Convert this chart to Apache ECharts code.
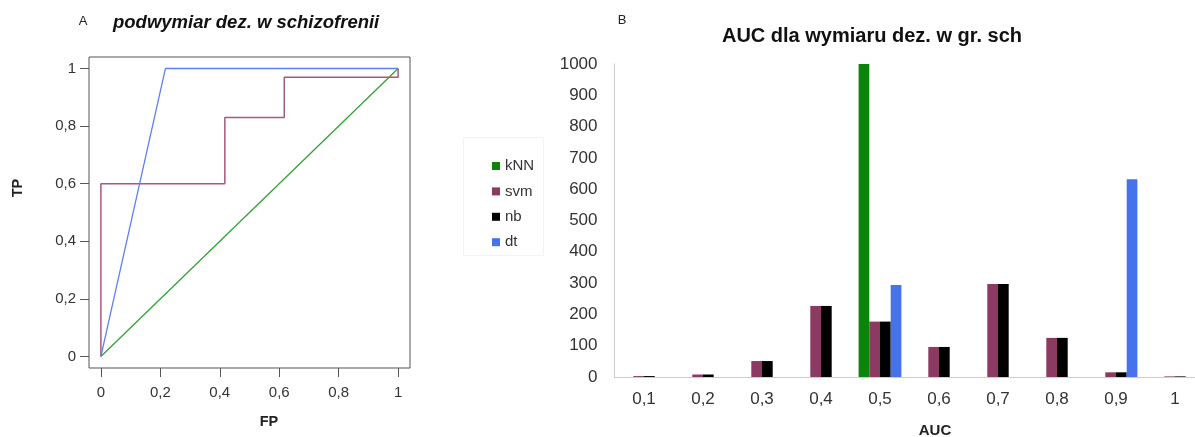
<!DOCTYPE html>
<html>
<head>
<meta charset="utf-8">
<script src="https://cdn.jsdelivr.net/npm/echarts@6/dist/echarts.min.js"></script>
<style>
  html, body { margin: 0; padding: 0; background: #ffffff; }
  #chart { width: 1195px; height: 437px; }
</style>
</head>
<body>
<div id="chart"></div>
<script>
// Panel A: ROC curves (FP, TP pairs)
const rocKnn = [[0, 0], [1, 1]];
const rocSvm = [[0, 0], [0, 0.6], [0.417, 0.6], [0.417, 0.83], [0.617, 0.83], [0.617, 0.97], [1, 0.97], [1, 1]];
const rocDt = [[0, 0], [0.217, 1], [1, 1]];
const rocTicks = [0, 0.2, 0.4, 0.6, 0.8, 1];

// Panel B: AUC histogram
const aucCategories = ['0,1', '0,2', '0,3', '0,4', '0,5', '0,6', '0,7', '0,8', '0,9', '1'];
const knnCounts = [0, 0, 0, 0, 1000, 0, 0, 0, 0, 0];
const svmCounts = [3, 8, 51, 227, 177, 96, 297, 125, 15, 2];
const nbCounts = [3, 8, 51, 227, 177, 96, 297, 125, 15, 2];
const dtCounts = [0, 0, 0, 0, 294, 0, 0, 0, 632, 0];
const seriesNames = ['kNN', 'svm', 'nb', 'dt'];

const FONT = '"Liberation Sans", Arial, Helvetica, sans-serif';
const commaFmt = v => String(+(+v).toFixed(1)).replace('.', ',');

const chart = echarts.init(document.getElementById('chart'), null, { renderer: 'canvas' });

const barColors = { kNN: '#0a850a', svm: '#8c3a62', nb: '#000000', dt: '#4672ec' };

const option = {
  backgroundColor: '#ffffff',
  animation: false,
  textStyle: { fontFamily: FONT },
  grid: [
    { left: 89, top: 57, width: 321, height: 311, show: true, borderColor: '#555555', borderWidth: 1, backgroundColor: 'transparent', outerBoundsMode: 'none' },
    { left: 614.5, top: 64, width: 590, height: 313, show: false, outerBoundsMode: 'none' }
  ],
  xAxis: [
    {
      type: 'value', gridIndex: 0, min: -0.04, max: 1.04,
      axisLine: { show: false, onZero: false },
      axisTick: { show: true, inside: false, length: 9, customValues: rocTicks, lineStyle: { color: '#555555' } },
      axisLabel: { customValues: rocTicks, formatter: commaFmt, margin: 17, fontSize: 15, color: '#333333', fontFamily: FONT },
      splitLine: { show: false }
    },
    {
      type: 'category', gridIndex: 1, data: aucCategories,
      axisLine: { show: true, lineStyle: { color: '#cccccc', width: 1 } },
      axisTick: { show: false },
      axisLabel: { fontSize: 17, color: '#333333', margin: 14, fontFamily: FONT, interval: 0 },
      splitLine: { show: false }
    }
  ],
  yAxis: [
    {
      type: 'value', gridIndex: 0, min: -0.04, max: 1.04,
      axisLine: { show: false, onZero: false },
      axisTick: { show: true, inside: false, length: 9, customValues: rocTicks, lineStyle: { color: '#555555' } },
      axisLabel: { customValues: rocTicks, formatter: commaFmt, margin: 13, fontSize: 15, color: '#333333', fontFamily: FONT },
      splitLine: { show: false }
    },
    {
      type: 'value', gridIndex: 1, min: 0, max: 1000, interval: 100,
      axisLine: { show: true, lineStyle: { color: '#cccccc', width: 1 } },
      axisTick: { show: false },
      axisLabel: { fontSize: 17, color: '#333333', margin: 17, fontFamily: FONT, formatter: v => String(v) },
      splitLine: { show: false }
    }
  ],
  legend: {
    data: seriesNames,
    orient: 'vertical',
    left: 487, top: 153,
    icon: 'rect',
    itemWidth: 8, itemHeight: 8,
    itemGap: 9.4,
    textStyle: { fontSize: 15, color: '#333333', lineHeight: 16, fontFamily: FONT }
  },
  series: [
    // ROC lines
    { name: 'ROC kNN', type: 'line', xAxisIndex: 0, yAxisIndex: 0, data: rocKnn, symbol: 'none',
      lineStyle: { color: '#2e9e2e', width: 1.2 } },
    { name: 'ROC svm', type: 'line', xAxisIndex: 0, yAxisIndex: 0, data: rocSvm, symbol: 'none',
      lineStyle: { color: '#a8577f', width: 1.5 } },
    { name: 'ROC dt', type: 'line', xAxisIndex: 0, yAxisIndex: 0, data: rocDt, symbol: 'none',
      lineStyle: { color: '#5b80f2', width: 1.3 } },
    // AUC bars
    { name: 'kNN', type: 'bar', xAxisIndex: 1, yAxisIndex: 1, data: knnCounts, barWidth: 10.7, barGap: '0%',
      itemStyle: { color: barColors.kNN } },
    { name: 'svm', type: 'bar', xAxisIndex: 1, yAxisIndex: 1, data: svmCounts, barWidth: 10.7, barGap: '0%',
      itemStyle: { color: barColors.svm } },
    { name: 'nb', type: 'bar', xAxisIndex: 1, yAxisIndex: 1, data: nbCounts, barWidth: 10.7, barGap: '0%',
      itemStyle: { color: barColors.nb } },
    { name: 'dt', type: 'bar', xAxisIndex: 1, yAxisIndex: 1, data: dtCounts, barWidth: 10.7, barGap: '0%',
      itemStyle: { color: barColors.dt } }
  ],
  graphic: [
    { type: 'rect', shape: { x: 463.5, y: 137.5, width: 80, height: 118 }, style: { fill: 'none', stroke: '#f3f3f3', lineWidth: 1 }, silent: true },
    { type: 'text', x: 83, y: 21, style: { text: 'A', font: '13px ' + FONT, fill: '#222222', textAlign: 'center', textVerticalAlign: 'middle' } },
    { type: 'text', x: 113, y: 23, style: { text: 'podwymiar dez. w schizofrenii', font: 'italic bold 18.5px ' + FONT, fill: '#111111', textVerticalAlign: 'middle' } },
    { type: 'text', x: 269, y: 422, style: { text: 'FP', font: 'bold 14.5px ' + FONT, fill: '#222222', textAlign: 'center', textVerticalAlign: 'middle' } },
    { type: 'text', x: 18, y: 188, rotation: Math.PI / 2, style: { text: 'TP', font: 'bold 14.5px ' + FONT, fill: '#222222', textAlign: 'center', textVerticalAlign: 'middle' } },
    { type: 'text', x: 622, y: 20, style: { text: 'B', font: '13px ' + FONT, fill: '#222222', textAlign: 'center', textVerticalAlign: 'middle' } },
    { type: 'text', x: 872, y: 36, style: { text: 'AUC dla wymiaru dez. w gr. sch', font: 'bold 20px ' + FONT, fill: '#111111', textAlign: 'center', textVerticalAlign: 'middle' } },
    { type: 'text', x: 935, y: 431, style: { text: 'AUC', font: 'bold 15px ' + FONT, fill: '#222222', textAlign: 'center', textVerticalAlign: 'middle' } }
  ]
};

chart.setOption(option);
</script>
</body>
</html>
